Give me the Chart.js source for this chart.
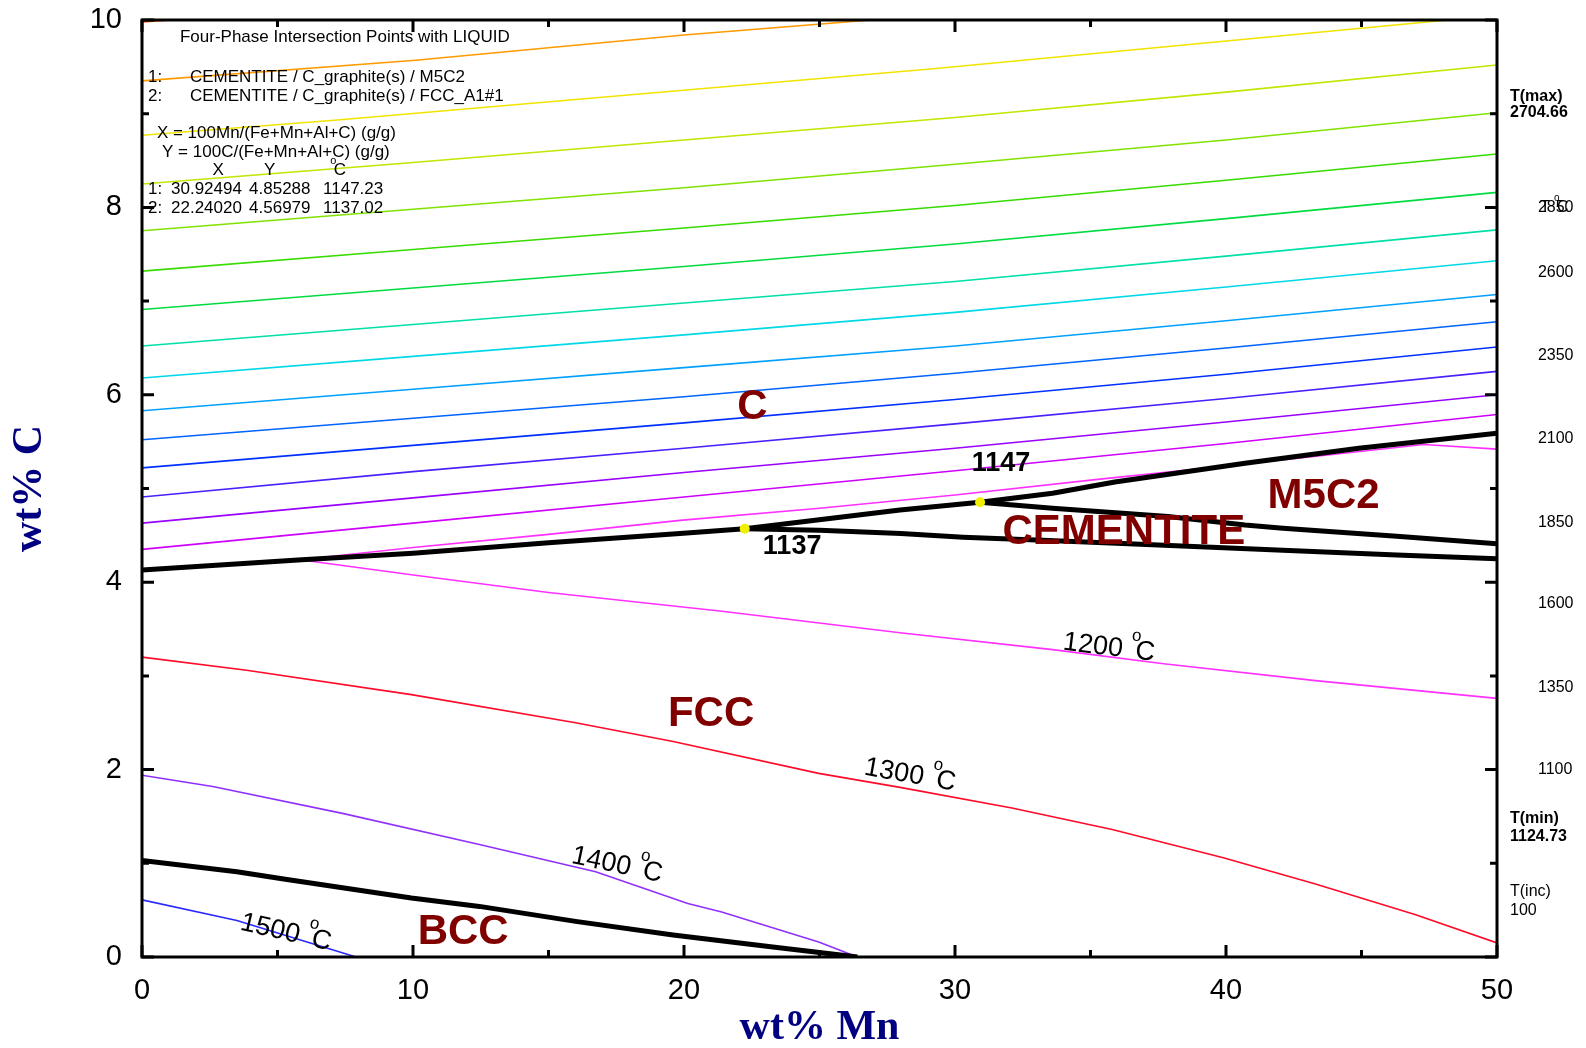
<!DOCTYPE html>
<html>
<head>
<meta charset="utf-8">
<script src="https://cdn.jsdelivr.net/npm/chart.js@4.4.1/dist/chart.umd.min.js"></script>
<style>
  html, body { margin: 0; padding: 0; background: #fff; }
  #wrap { width: 1586px; height: 1048px; position: relative; }
</style>
</head>
<body>
<div id="wrap"><canvas id="phaseChart"></canvas></div>
<script>
// ---- data (wt% Mn on x, wt% C on y) ----
const xTicks = [0, 10, 20, 30, 40, 50];
const yTicks = [0, 2, 4, 6, 8, 10];

// graphite-field isotherms, read at these x values
const isoX = [0, 10, 20, 30, 40, 50];
const isoYellowGreen = [8.25, 8.48, 8.72, 8.96, 9.23, 9.52];
const isoLime    = [7.75, 7.98, 8.21, 8.46, 8.72, 9.01];
const isoGreen   = [7.32, 7.55, 7.78, 8.02, 8.29, 8.57];
const isoGreen2  = [6.91, 7.14, 7.37, 7.61, 7.88, 8.16];
const isoTeal    = [6.52, 6.75, 6.98, 7.21, 7.48, 7.76];
const isoCyan    = [6.18, 6.41, 6.64, 6.88, 7.15, 7.43];
const isoSky     = [5.83, 6.06, 6.29, 6.52, 6.79, 7.07];
const isoBlue    = [5.52, 5.75, 5.98, 6.23, 6.50, 6.78];
const isoBlue2   = [5.22, 5.46, 5.70, 5.95, 6.22, 6.51];
const isoIndigo  = [4.91, 5.18, 5.43, 5.69, 5.96, 6.25];
const isoPurple  = [4.63, 4.90, 5.17, 5.43, 5.71, 6.00];
const isoMagenta = [4.35, 4.63, 4.91, 5.19, 5.48, 5.79];

const cornerX = [0, 1.1];
const cornerY = [9.98, 10];
const orangeX = [0, 10.1, 20, 26.9];
const orangeY = [9.35, 9.57, 9.84, 10];
const yellowX = [0, 7.1, 29.2, 48.2];
const yellowY = [8.77, 8.93, 9.48, 10];

// 1200 C isotherm, two branches from the valley
const t1200UpX = [5.83, 10, 15, 19.85, 25, 30, 35.35, 40, 43.5, 47.3, 50];
const t1200UpY = [4.24, 4.37, 4.51, 4.66, 4.79, 4.93, 5.10, 5.24, 5.35, 5.47, 5.42];
const t1200X = [5.83, 9.94, 15, 21.4, 27.97, 33.6, 37.7, 43.3, 50];
const t1200Y = [4.24, 4.08, 3.89, 3.69, 3.46, 3.28, 3.13, 2.95, 2.76];
const t1300X = [0, 3.86, 9.94, 16.0, 19.6, 24.97, 27.97, 32.1, 35.8, 39.9, 43.3, 47, 50];
const t1300Y = [3.20, 3.06, 2.80, 2.50, 2.30, 1.96, 1.81, 1.59, 1.36, 1.06, 0.78, 0.45, 0.15];
const t1400X = [0, 2.61, 7.44, 12.45, 16.74, 20.14, 21.39, 24.97, 26.4];
const t1400Y = [1.94, 1.82, 1.53, 1.20, 0.91, 0.57, 0.48, 0.16, 0];
const t1500X = [0, 3.5, 7.9];
const t1500Y = [0.61, 0.39, 0];

// phase boundaries (thick black)
const valleyX = [0, 5.9, 10, 15, 19.85, 22.24, 27.97, 30.92, 33.6, 35.9, 40.7, 44.9, 50];
const valleyY = [4.13, 4.24, 4.31, 4.42, 4.52, 4.57, 4.77, 4.853, 4.95, 5.07, 5.27, 5.43, 5.59];
const cemM5C2X = [30.92, 33.6, 37.86, 40.7, 42.1, 46.3, 50];
const cemM5C2Y = [4.853, 4.79, 4.70, 4.61, 4.575, 4.49, 4.41];
const cemFccX = [22.24, 25, 28, 30.3, 33, 36.4, 42.1, 46.3, 50];
const cemFccY = [4.57, 4.555, 4.52, 4.48, 4.45, 4.41, 4.34, 4.29, 4.25];
const bccX = [0, 3.5, 5.29, 9.94, 12.45, 16.0, 19.6, 23.2, 26.4];
const bccY = [1.03, 0.91, 0.83, 0.63, 0.54, 0.38, 0.235, 0.11, 0];

// four-phase points
const pointX = [30.92494, 22.24020];
const pointY = [4.85288, 4.56979];
const pointT = [1147.23, 1137.02];

// right-hand temperature scale
const tempLabels = ['2850', '2600', '2350', '2100', '1850', '1600', '1350', '1100'];
const tempLabelY = [8.00, 7.30, 6.42, 5.53, 4.64, 3.77, 2.87, 2.00];

function pts(xa, ya) {
  return xa.map((x, i) => ({ x: x, y: ya[i] }));
}

const FONT = '"Liberation Sans", Arial, sans-serif';
const SERIF = '"Liberation Serif", "Times New Roman", serif';

function thin(xa, ya, color) {
  return { data: pts(xa, ya), borderColor: color, borderWidth: 1.6, showLine: true,
           pointRadius: 0, tension: 0, order: 3 };
}
function thick(xa, ya) {
  return { data: pts(xa, ya), borderColor: '#000', borderWidth: 5, showLine: true,
           pointRadius: 0, tension: 0, order: 1, borderJoinStyle: 'round' };
}

const datasets = [
  thin(cornerX, cornerY, '#ff5000'),
  thin(orangeX, orangeY, '#ff9a00'),
  thin(yellowX, yellowY, '#f2e400'),
  thin(isoX, isoYellowGreen, '#bfe800'),
  thin(isoX, isoLime, '#80e400'),
  thin(isoX, isoGreen, '#38dc00'),
  thin(isoX, isoGreen2, '#00dc40'),
  thin(isoX, isoTeal, '#00e0a8'),
  thin(isoX, isoCyan, '#00d8e8'),
  thin(isoX, isoSky, '#00a0ff'),
  thin(isoX, isoBlue, '#0064ff'),
  thin(isoX, isoBlue2, '#0030ff'),
  thin(isoX, isoIndigo, '#4a20ff'),
  thin(isoX, isoPurple, '#9a00ff'),
  thin(isoX, isoMagenta, '#d000ff'),
  thin(t1200UpX, t1200UpY, '#ff30ff'),
  thin(t1200X, t1200Y, '#ff30ff'),
  thin(t1300X, t1300Y, '#ff0a28'),
  thin(t1400X, t1400Y, '#9030ff'),
  thin(t1500X, t1500Y, '#2a2aff'),
  thick(valleyX, valleyY),
  thick(cemM5C2X, cemM5C2Y),
  thick(cemFccX, cemFccY),
  thick(bccX, bccY),
  { data: pts(pointX, pointY), showLine: false, pointRadius: 5, pointBorderWidth: 0,
    pointBackgroundColor: '#f0f000', order: 0 }
];

// text drawing helpers
function degC(ctx, x, y, size) {
  // raised small "o" followed by "C", returns width
  ctx.save();
  ctx.font = Math.round(size * 0.62) + 'px ' + FONT;
  const wo = ctx.measureText('o').width;
  ctx.fillText('o', x, y - size * 0.55);
  ctx.font = size + 'px ' + FONT;
  ctx.fillText('C', x + wo * 0.55, y);
  const wc = ctx.measureText('C').width;
  ctx.restore();
  return wo * 0.55 + wc;
}

function isoLabel(ctx, cx, cy, num, angle) {
  const size = 27;
  ctx.save();
  ctx.translate(cx, cy);
  ctx.rotate(angle * Math.PI / 180);
  ctx.font = size + 'px ' + FONT;
  ctx.textBaseline = 'middle';
  ctx.textAlign = 'left';
  const w1 = ctx.measureText(num + ' ').width;
  ctx.font = Math.round(size * 0.62) + 'px ' + FONT;
  const wo = ctx.measureText('o').width;
  ctx.font = size + 'px ' + FONT;
  const total = w1 + wo * 0.55 + ctx.measureText('C').width;
  ctx.fillStyle = '#000';
  ctx.fillText(num, -total / 2, 0);
  degC(ctx, -total / 2 + w1, 0, size);
  ctx.restore();
}

const decor = {
  id: 'decor',
  afterDatasetsDraw(chart) {
    const ctx = chart.ctx;
    const a = chart.chartArea;
    const px = v => chart.scales.x.getPixelForValue(v);
    const py = v => chart.scales.y.getPixelForValue(v);
    ctx.save();

    // frame and inward ticks on all four sides
    ctx.strokeStyle = '#000';
    ctx.lineWidth = 3;
    ctx.strokeRect(a.left, a.top, a.right - a.left, a.bottom - a.top);
    ctx.beginPath();
    for (let v = 0; v <= 50; v += 5) {
      const len = v % 10 === 0 ? 12 : 7;
      const x = px(v);
      ctx.moveTo(x, a.bottom); ctx.lineTo(x, a.bottom - len);
      ctx.moveTo(x, a.top); ctx.lineTo(x, a.top + len);
    }
    for (let v = 0; v <= 10; v += 1) {
      const len = v % 2 === 0 ? 12 : 7;
      const y = py(v);
      ctx.moveTo(a.left, y); ctx.lineTo(a.left + len, y);
      ctx.moveTo(a.right, y); ctx.lineTo(a.right - len, y);
    }
    ctx.stroke();

    // info block, top left
    ctx.fillStyle = '#000';
    ctx.textBaseline = 'middle';
    ctx.textAlign = 'left';
    ctx.font = '17px ' + FONT;
    ctx.fillText('Four-Phase Intersection Points with LIQUID', px(1.40), py(9.81));
    ctx.fillText('1:', px(0.22), py(9.39));
    ctx.fillText('CEMENTITE / C_graphite(s) / M5C2', px(1.77), py(9.39));
    ctx.fillText('2:', px(0.22), py(9.19));
    ctx.fillText('CEMENTITE / C_graphite(s) / FCC_A1#1', px(1.77), py(9.19));
    ctx.fillText('X = 100Mn/(Fe+Mn+Al+C) (g/g)', px(0.55), py(8.79));
    ctx.fillText('Y = 100C/(Fe+Mn+Al+C) (g/g)', px(0.74), py(8.59));
    ctx.fillText('X', px(2.60), py(8.40));
    ctx.fillText('Y', px(4.50), py(8.40));
    degC(ctx, px(6.95), py(8.40), 17);
    [8.19, 7.99].forEach((yy, i) => {
      ctx.fillText((i + 1) + ':', px(0.22), py(yy));
      ctx.fillText(pointX[i].toFixed(5), px(1.07), py(yy));
      ctx.fillText(pointY[i].toFixed(5), px(3.95), py(yy));
      ctx.fillText(pointT[i].toFixed(2), px(6.68), py(yy));
    });

    // right-hand temperature scale
    ctx.font = 'bold 16px ' + FONT;
    ctx.fillText('T(max)', px(50.48), py(9.18));
    ctx.fillText('2704.66', px(50.48), py(9.01));
    ctx.fillText('T(min)', px(50.48), py(1.48));
    ctx.fillText('1124.73', px(50.48), py(1.28));
    ctx.font = '16px ' + FONT;
    ctx.fillText('T(inc)', px(50.48), py(0.70));
    ctx.fillText('100', px(50.48), py(0.50));
    tempLabels.forEach((t, i) => ctx.fillText(t, px(51.51), py(tempLabelY[i])));
    ctx.fillText('T', px(51.6), py(8.0));
    degC(ctx, px(52.1), py(8.0), 16);

    // isotherm labels
    isoLabel(ctx, px(5.31), py(0.26), '1500', 13);
    isoLabel(ctx, px(17.53), py(0.98), '1400', 12);
    isoLabel(ctx, px(28.34), py(1.94), '1300', 10);
    isoLabel(ctx, px(35.68), py(3.30), '1200', 7);

    // four-phase temperatures
    ctx.textAlign = 'center';
    ctx.font = 'bold 27px ' + FONT;
    ctx.fillText(String(Math.round(pointT[0])), px(31.7), py(5.27));
    ctx.fillText(String(Math.round(pointT[1])), px(23.99), py(4.38));

    // phase field names
    ctx.fillStyle = '#800000';
    ctx.font = 'bold 42px ' + FONT;
    ctx.fillText('C', px(22.52), py(5.87));
    ctx.fillText('M5C2', px(43.6), py(4.92));
    ctx.fillText('CEMENTITE', px(36.23), py(4.53));
    ctx.fillText('FCC', px(21.0), py(2.59));
    ctx.fillText('BCC', px(11.85), py(0.26));
    ctx.restore();
  }
};

// keep label overflow from pushing the plot area around
function noPad(s) {
  s.paddingTop = 0; s.paddingBottom = 0; s.paddingLeft = 0; s.paddingRight = 0;
}

const hidden = { display: false };
new Chart(document.getElementById('phaseChart'), {
  type: 'scatter',
  data: { datasets: datasets },
  options: {
    responsive: true,
    maintainAspectRatio: false,
    animation: false,
    devicePixelRatio: 1,
    layout: { padding: 0 },
    plugins: { legend: hidden, tooltip: { enabled: false } },
    scales: {
      x: {
        type: 'linear', position: 'bottom', min: 0, max: 50,
        afterBuildTicks: s => { s.ticks = xTicks.map(v => ({ value: v })); },
        afterFit: s => { s.height = 91; noPad(s); },
        grid: { display: false, drawTicks: false },
        border: { display: false },
        ticks: { padding: 17, color: '#000', font: { family: FONT, size: 29 } },
        title: { display: true, text: 'wt% Mn', color: '#000080',
                 font: { family: SERIF, size: 42, weight: 'bold', lineHeight: 1 },
                 padding: { top: 0, bottom: -1 } }
      },
      x2: {
        type: 'linear', position: 'top', min: 0, max: 1,
        afterFit: s => { s.height = 20; noPad(s); },
        grid: hidden, border: hidden, ticks: hidden
      },
      y: {
        type: 'linear', position: 'left', min: 0, max: 10,
        afterBuildTicks: s => { s.ticks = yTicks.map(v => ({ value: v })); },
        afterFit: s => { s.width = 142; noPad(s); },
        grid: { display: false, drawTicks: false },
        border: { display: false },
        ticks: { padding: 20, color: '#000', font: { family: FONT, size: 29 } },
        title: { display: true, text: 'wt% C', color: '#000080',
                 font: { family: SERIF, size: 42, weight: 'bold', lineHeight: 1 },
                 padding: { top: 9, bottom: 0 } }
      },
      y2: {
        type: 'linear', position: 'right', min: 0, max: 1,
        afterFit: s => { s.width = 89; noPad(s); },
        grid: hidden, border: hidden, ticks: hidden
      }
    }
  },
  plugins: [decor]
});
</script>
</body>
</html>
